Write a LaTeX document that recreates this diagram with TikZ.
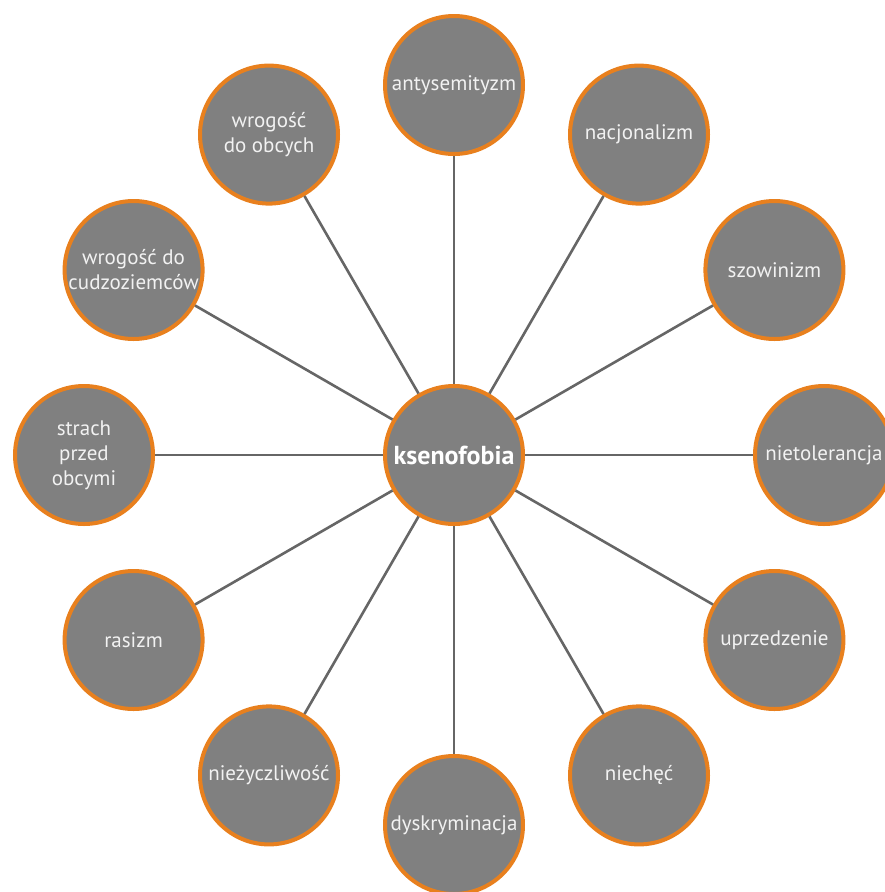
\documentclass[tikz,border=0pt]{standalone}
\usepackage{fontspec}
\setmainfont{PT Sans}
\definecolor{bubble}{HTML}{808080}
\definecolor{rim}{HTML}{E8801E}
\definecolor{spoke}{HTML}{666666}
\definecolor{label}{HTML}{F2F2F2}
\begin{document}
\begin{tikzpicture}[x=1pt,y=-1pt,
  bub/.style={circle,fill=bubble,draw=rim,line width=4pt,minimum size=138pt,inner sep=0pt,
    text=label,align=center,font=\fontsize{21}{25}\selectfont},
  hub/.style={bub,font=\bfseries\fontsize{26}{25}\selectfont,text=white},
  spk/.style={draw=spoke,line width=2.6pt}]
\useasboundingbox (0,0) rectangle (885,892);
\def\R{370}
\node[hub] (c) at (454,455) {ksenofobia};
\node[bub] (n1) at (454,455-\R) {antysemityzm};
\node[bub] (n2) at (454+0.5*\R,455-0.866*\R) {nacjonalizm};
\node[bub] (n3) at (454+0.866*\R,455-0.5*\R) {szowinizm};
\node[bub] (n4) at (454+\R,455) {nietolerancja};
\node[bub] (n5) at (454+0.866*\R,455+0.5*\R) {uprzedzenie};
\node[bub] (n6) at (454+0.5*\R,455+0.866*\R) {niechęć};
\node[bub] (n7) at (454,455+\R) {dyskryminacja};
\node[bub] (n8) at (454-0.5*\R,455+0.866*\R) {nieżyczliwość};
\node[bub] (n9) at (454-0.866*\R,455+0.5*\R) {rasizm};
\node[bub] (n10) at (454-\R,455) {strach\\przed\\obcymi};
\node[bub] (n11) at (454-0.866*\R,455-0.5*\R) {wrogość do\\cudzoziemców};
\node[bub] (n12) at (454-0.5*\R,455-0.866*\R) {wrogość\\do obcych};
\foreach \i in {1,...,12} {\draw[spk] (c) -- (n\i);}
\end{tikzpicture}
\end{document}
